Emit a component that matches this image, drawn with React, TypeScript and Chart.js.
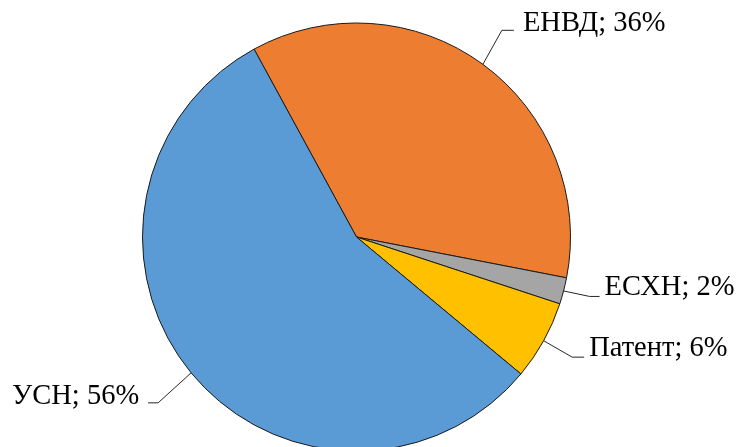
import React, { useEffect, useRef } from "react";
import { Chart, registerables } from "chart.js";

Chart.register(...registerables);

const categories = ["ЕНВД", "ЕСХН", "Патент", "УСН"];
const shares = [36, 2, 6, 56];
const colors = ["#ED7D31", "#A5A5A5", "#FFC000", "#5B9BD5"];

// leader-line layout per label: elbow offset from slice edge, horizontal run, text gap, baseline shift
const leaderElbow = [
  [19, -34],
  [26, 5.5],
  [28.5, 16.4],
  [-33, 30],
];
const leaderRun = [12, 10, 12, -10];
const textGap = [9, 5, 5, 9];
const baselineShift = [1, -1, -1, 1];

const labelPlugin = {
  id: "leaderLabels",
  afterDraw(chart: any) {
    const ctx = chart.ctx;
    const meta = chart.getDatasetMeta(0);
    ctx.save();
    ctx.font = "28.5px 'Liberation Serif', 'Times New Roman', serif";
    ctx.fillStyle = "#000";
    ctx.strokeStyle = "#262626";
    ctx.lineWidth = 1;
    meta.data.forEach((arc: any, i: number) => {
      const { x, y, startAngle, endAngle, outerRadius } = arc.getProps(
        ["x", "y", "startAngle", "endAngle", "outerRadius"],
        true
      );
      const mid = (startAngle + endAngle) / 2;
      const ax = x + Math.cos(mid) * outerRadius;
      const ay = y + Math.sin(mid) * outerRadius;
      const ex = ax + leaderElbow[i][0];
      const ey = ay + leaderElbow[i][1];
      const hx = ex + leaderRun[i];
      ctx.beginPath();
      ctx.moveTo(ax, ay);
      ctx.lineTo(ex, ey);
      ctx.lineTo(hx, ey);
      ctx.stroke();
      const text = `${categories[i]}; ${shares[i]}%`;
      const right = leaderRun[i] < 0;
      ctx.textAlign = right ? "right" : "left";
      ctx.textBaseline = "alphabetic";
      ctx.fillText(text, right ? hx - textGap[i] : hx + textGap[i], ey + baselineShift[i]);
    });
    ctx.restore();
  },
};

export default function App() {
  const ref = useRef<HTMLCanvasElement | null>(null);
  useEffect(() => {
    if (!ref.current) return;
    const chart = new Chart(ref.current, {
      type: "pie",
      data: {
        labels: categories,
        datasets: [
          {
            data: shares,
            backgroundColor: colors,
            borderColor: "#1a1a1a",
            borderWidth: 1,
            hoverOffset: 0,
          },
        ],
      },
      options: {
        animation: false,
        responsive: false,
        rotation: -28.6,
        layout: { padding: { top: 22, bottom: 8, left: 142, right: 168 } },
        plugins: {
          legend: { display: false },
          tooltip: { enabled: false },
        },
        events: [],
      },
      plugins: [labelPlugin],
    });
    return () => chart.destroy();
  }, []);
  return (
    <div
      style={{
        position: "absolute",
        left: 0,
        top: 0,
        width: 739,
        height: 447,
        overflow: "hidden",
        background: "#fff",
      }}
    >
      <canvas ref={ref} width={739} height={460} style={{ width: 739, height: 460, display: "block" }} />
    </div>
  );
}
